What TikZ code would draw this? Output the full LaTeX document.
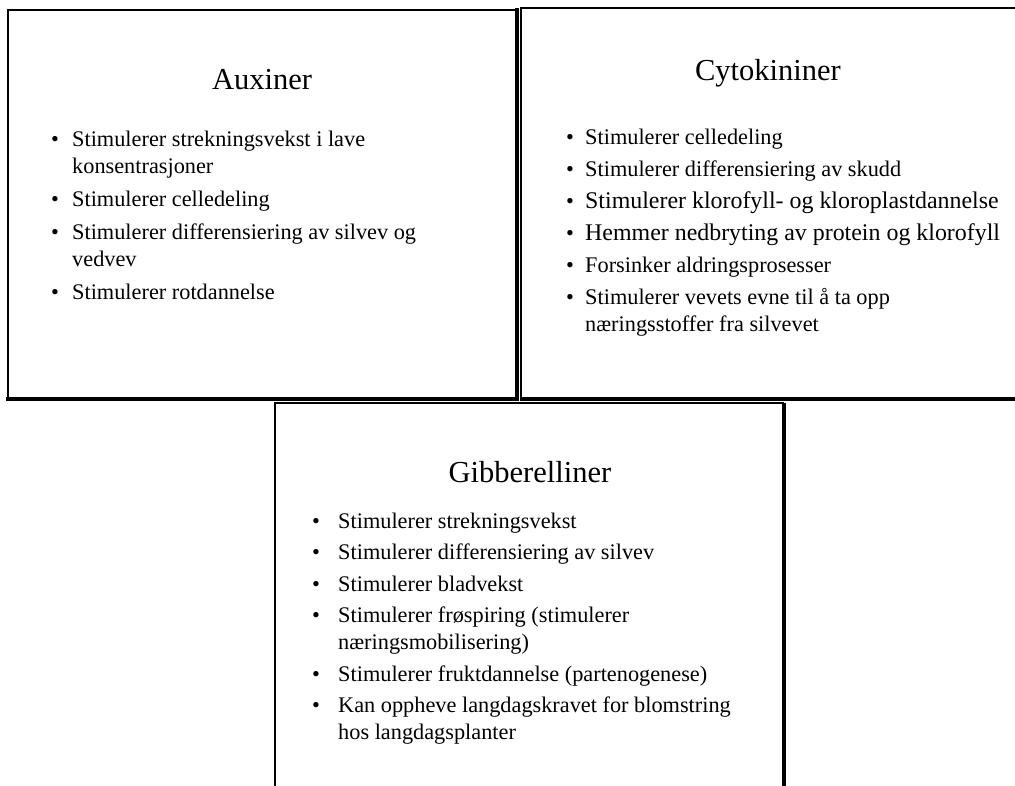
\documentclass[tikz,border=0pt]{standalone}
\usepackage{fontspec}
\setmainfont{Liberation Serif}
\begin{document}
\begin{tikzpicture}[x=1pt,y=-1pt,
  thinedge/.style={line width=2pt,line cap=rect},
  thickedge/.style={line width=4pt,line cap=rect},
  ttl/.style={anchor=base,inner sep=0pt,font=\fontsize{30.5}{36}\selectfont},
  itm/.style={anchor=base west,inner sep=0pt,font=\fontsize{22.3}{27}\selectfont},
  wideitm/.style={anchor=base west,inner sep=0pt,font=\fontsize{23.9}{28}\selectfont},
  bul/.style={anchor=base,inner sep=0pt,font=\fontsize{22.3}{27}\selectfont}]
\useasboundingbox (0,0) rectangle (1015,786);
% box 1
\coordinate (p1tl) at (8,10);
\coordinate (p1tr) at (515,10);
\coordinate (p1br) at (517,398.5);
\coordinate (p1bl) at (8,398.5);
\draw[thinedge] (p1bl) -- (p1tl) -- (p1tr);
\draw[thickedge] (517,10) -- (p1br) -- (p1bl);
% box 2
\coordinate (p2tl) at (521,8);
\coordinate (p2tr) at (1020,8);
\coordinate (p2bl) at (521,399);
\coordinate (p2br) at (1020,399);
\draw[thinedge] (p2bl) -- (p2tl) -- (p2tr);
\draw[thickedge] (522,399) -- (p2br);
% box 3
\coordinate (p3tl) at (275,403);
\coordinate (p3tr) at (783,403);
\coordinate (p3bl) at (275,790);
\coordinate (p3br) at (784,790);
\draw[thinedge] (p3bl) -- (p3tl) -- (p3tr);
\draw[thickedge] (784,405) -- (p3br);

% Auxiner
\node[ttl] (t1) at (262,90) {Auxiner};
\node[bul] (a1b) at (55,147) {•};
\node[itm] (a1) at (72,147) {Stimulerer strekningsvekst i lave};
\node[itm] (a1c) at (72,174) {konsentrasjoner};
\node[bul] (a2b) at (55,207) {•};
\node[itm] (a2) at (72,207) {Stimulerer celledeling};
\node[bul] (a3b) at (55,240) {•};
\node[itm] (a3) at (72,240) {Stimulerer differensiering av silvev og};
\node[itm] (a3c) at (72,267) {vedvev};
\node[bul] (a4b) at (55,300) {•};
\node[itm] (a4) at (72,300) {Stimulerer rotdannelse};

% Cytokininer
\node[ttl] (t2) at (768,81) {Cytokininer};
\node[bul] (c1b) at (570,145) {•};
\node[itm] (c1) at (585,145) {Stimulerer celledeling};
\node[bul] (c2b) at (570,177) {•};
\node[itm] (c2) at (585,177) {Stimulerer differensiering av skudd};
\node[bul] (c3b) at (570,209) {•};
\node[wideitm] (c3) at (585,209) {Stimulerer klorofyll- og kloroplastdannelse};
\node[bul] (c4b) at (570,241) {•};
\node[wideitm] (c4) at (585,241) {Hemmer nedbryting av protein og klorofyll};
\node[bul] (c5b) at (570,273) {•};
\node[itm] (c5) at (585,273) {Forsinker aldringsprosesser};
\node[bul] (c6b) at (570,305) {•};
\node[itm] (c6) at (585,305) {Stimulerer vevets evne til å ta opp};
\node[itm] (c6c) at (585,332) {næringsstoffer fra silvevet};

% Gibberelliner
\node[ttl] (t3) at (530,482) {Gibberelliner};
\node[bul] (g1b) at (316,528) {•};
\node[itm] (g1) at (338,528) {Stimulerer strekningsvekst};
\node[bul] (g2b) at (316,559.5) {•};
\node[itm] (g2) at (338,559.5) {Stimulerer differensiering av silvev};
\node[bul] (g3b) at (316,591) {•};
\node[itm] (g3) at (338,591) {Stimulerer bladvekst};
\node[bul] (g4b) at (316,622.5) {•};
\node[itm] (g4) at (338,622.5) {Stimulerer frøspiring (stimulerer};
\node[itm] (g4c) at (338,649.5) {næringsmobilisering)};
\node[bul] (g5b) at (316,681) {•};
\node[itm] (g5) at (338,681) {Stimulerer fruktdannelse (partenogenese)};
\node[bul] (g6b) at (316,712.5) {•};
\node[itm] (g6) at (338,712.5) {Kan oppheve langdagskravet for blomstring};
\node[itm] (g6c) at (338,739.5) {hos langdagsplanter};
\end{tikzpicture}
\end{document}
